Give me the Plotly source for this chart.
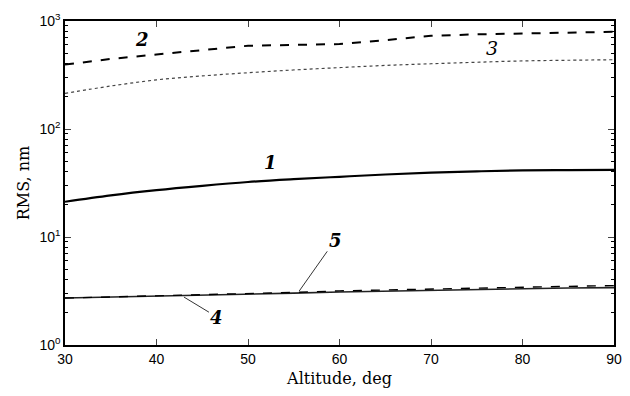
import plotly.graph_objects as go

altitude = [30, 35, 40, 45, 50, 55, 60, 65, 70, 75, 80, 85, 90]
rms_1 = [21.2, 24.3, 27.2, 29.8, 32.3, 34.3, 36.1, 37.9, 39.4, 40.5, 41.4, 41.7, 41.9]
rms_2 = [395, 445, 490, 540, 590, 600, 612, 665, 730, 752, 765, 780, 795]
rms_3 = [214, 250, 285, 310, 332, 352, 370, 388, 402, 415, 427, 433, 438]
rms_4 = [2.72, 2.77, 2.82, 2.88, 2.95, 3.02, 3.10, 3.16, 3.22, 3.28, 3.33, 3.37, 3.40]
rms_5 = [2.72, 2.78, 2.84, 2.91, 2.98, 3.07, 3.17, 3.24, 3.30, 3.36, 3.42, 3.49, 3.55]

y_tickvals = [1, 10, 100, 1000]
y_ticktext = ["10<sup>0</sup>", "10<sup>1</sup>", "10<sup>2</sup>", "10<sup>3</sup>"]
x_tickvals = [30, 40, 50, 60, 70, 80, 90]
minor_vals = [m * d for d in (1, 10, 100) for m in range(2, 10)]

fig = go.Figure()
fig.add_trace(go.Scatter(x=altitude, y=rms_3, mode="lines", line_shape="spline",
                         line=dict(color="#444", width=1.2, dash="dot")))
fig.add_trace(go.Scatter(x=altitude, y=rms_2, mode="lines",
                         line=dict(color="black", width=2, dash="dash")))
fig.add_trace(go.Scatter(x=altitude, y=rms_1, mode="lines", line_shape="spline",
                         line=dict(color="black", width=2.2)))
fig.add_trace(go.Scatter(x=altitude, y=rms_4, mode="lines",
                         line=dict(color="#222", width=1.6)))
fig.add_trace(go.Scatter(x=altitude, y=rms_5, mode="lines",
                         line=dict(color="black", width=1.4, dash="dash")))

lab_font = dict(family="DejaVu Serif", size=18, color="black")
fig.add_annotation(x=38.4, y=2.833, text="<b><i>2</i></b>", showarrow=False, font=lab_font)
fig.add_annotation(x=76.7, y=2.75, text="<i>3</i>", showarrow=False,
                   font=dict(family="DejaVu Serif", size=19, color="black"))
fig.add_annotation(x=52.5, y=1.694, text="<b><i>1</i></b>", showarrow=False, font=lab_font)
fig.add_annotation(x=55.6, y=0.5, text="<b><i>5</i></b>", showarrow=True, arrowhead=0,
                   arrowwidth=0.8, arrowcolor="black", ax=36, ay=-51, font=lab_font)
fig.add_annotation(x=43.0, y=0.444, text="<b><i>4</i></b>", showarrow=True, arrowhead=0,
                   arrowwidth=0.8, arrowcolor="black", ax=33, ay=20, font=lab_font)

# the page body adds an 8px margin; keep the figure inside the 630x396 window
fig.update_layout(
    width=614, height=380,
    margin=dict(l=57, r=8, t=13, b=43, autoexpand=False),
    paper_bgcolor="white", plot_bgcolor="white",
    showlegend=False,
)
fig.update_xaxes(
    range=[30, 90], tickvals=x_tickvals, ticks="inside", ticklen=6, tickwidth=1.2,
    showline=True, linecolor="black", linewidth=1.5, mirror="allticks",
    showgrid=False, zeroline=False, automargin=False,
    tickfont=dict(family="Liberation Sans", size=14, color="black"),
    title=dict(text="Altitude, deg", standoff=8,
               font=dict(family="DejaVu Serif", size=16, color="black")),
)
fig.update_yaxes(
    type="log", range=[0, 3], tickvals=y_tickvals, ticktext=y_ticktext,
    ticks="inside", ticklen=6, tickwidth=1.2,
    minor=dict(tickvals=minor_vals, ticks="inside", ticklen=3, tickwidth=1, tickcolor="black", showgrid=False),
    showline=True, linecolor="black", linewidth=1.5, mirror="allticks",
    showgrid=False, zeroline=False, automargin=False,
    tickfont=dict(family="Liberation Sans", size=14, color="black"),
    title=dict(text="RMS, nm", standoff=6,
               font=dict(family="DejaVu Serif", size=16, color="black")),
)

fig.write_html("out.html")
